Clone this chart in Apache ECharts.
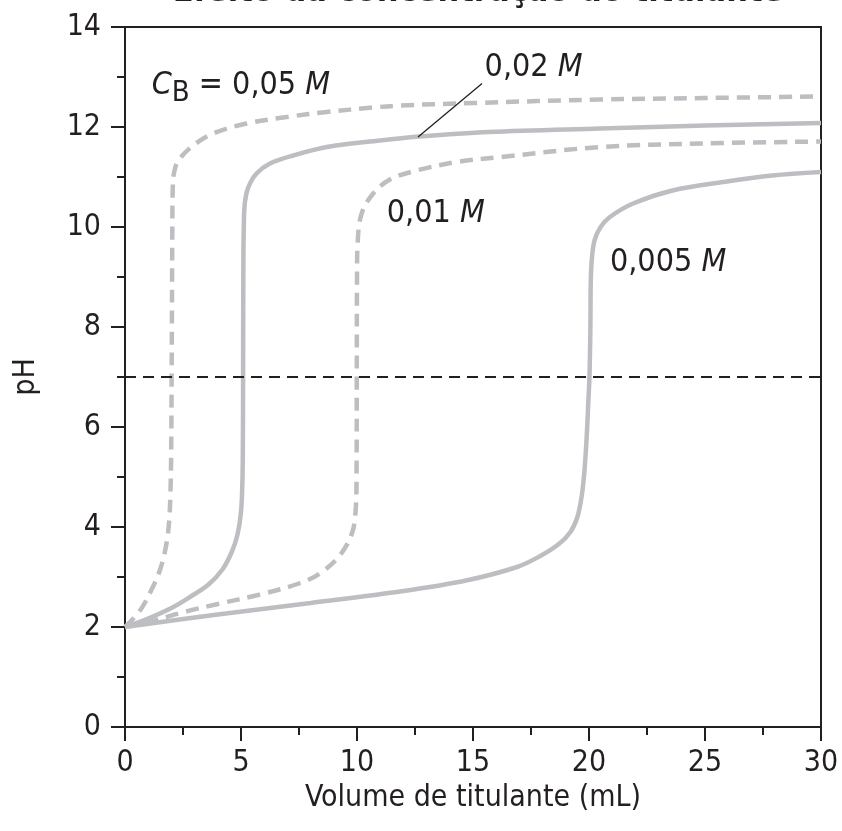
<!DOCTYPE html>
<html>
<head>
<meta charset="utf-8">
<script src="https://cdn.jsdelivr.net/npm/echarts@6/dist/echarts.min.js"></script>
<style>
  html, body { margin: 0; padding: 0; background: #fff; }
  #chart { width: 842px; height: 831px; }
</style>
</head>
<body>
<div id="chart"></div>
<script>
// curvas de titulação [volume (mL), pH]
var curva005 = [[0,2],[0.65,2.33],[1.2,2.8],[1.55,3.2],[1.78,3.65],[1.9,4.1],[1.96,4.7],[1.99,5.5],[2.01,7],
    [2.02,8],[2.03,9],[2.04,10],[2.06,10.8],[2.12,11.1],[2.3,11.33],[2.94,11.63],[3.8,11.87],[5.24,12.07],
    [6.97,12.2],[8.7,12.3],[10.7,12.39],[11.85,12.43],[15,12.48],[20.5,12.55],[25,12.58],[30,12.61]];
var curva002 = [[0,2],[1,2.17],[2,2.38],[2.8,2.6],[3.6,2.85],[4.2,3.15],[4.6,3.5],[4.85,3.85],[5.0,4.3],
    [5.06,4.9],[5.08,5.6],[5.09,7],[5.1,9],[5.12,10],[5.17,10.5],[5.32,10.8],[5.67,11.07],[6.25,11.27],
    [7.25,11.43],[8.7,11.6],[11,11.73],[12.7,11.81],[15.7,11.9],[20.5,11.97],[25,12.03],[30,12.08]];
var curva001 = [[0,2],[1,2.1],[2.55,2.3],[4,2.46],[5.82,2.65],[7.5,2.87],[8.4,3.07],[9.27,3.44],[9.8,3.9],
    [9.95,4.4],[9.98,5],[9.99,7],[10,9],[10.03,9.7],[10.2,10.27],[10.7,10.67],[11.42,10.95],[12.57,11.13],
    [14.3,11.3],[16.2,11.4],[20.5,11.6],[24.8,11.67],[30,11.71]];
var curva0005 = [[0,2],[4,2.25],[8,2.48],[12,2.72],[14.7,2.93],[16.9,3.2],[17.9,3.42],[18.7,3.66],[19.2,3.9],
    [19.5,4.2],[19.68,4.6],[19.8,5.1],[19.9,5.8],[19.97,6.5],[20.02,7],[20.06,8],[20.08,9.0],[20.14,9.45],
    [20.25,9.75],[20.5,10.0],[20.9,10.2],[21.9,10.47],[23.6,10.73],[25.8,10.9],[27.9,11.03],[30,11.1]];
var pontoEquivalencia = 7;
var linhaGuia = [[12.63,11.8],[15.39,12.87]];
// rótulos: [volume, pH, texto]
var rotulos = [
    [1.15, 12.83, '{i|C}{sub|B} = 0,05 {i|M}'],
    [15.5, 13.19, '0,02 {i|M}'],
    [11.28, 10.27, '0,01 {i|M}'],
    [20.9, 9.28, '0,005 {i|M}']
];
var xTicks = [0, 5, 10, 15, 20, 25, 30];

var fonte = '"DejaVu Sans Condensed", "Liberation Sans Narrow", sans-serif';
var cinza = '#bdbec1';
var preto = '#231f20';

var chart = echarts.init(document.getElementById('chart'));

function curva(dados, tracejada) {
    return {
        type: 'line',
        data: dados,
        showSymbol: false,
        smooth: 0.35,
        lineStyle: { color: cinza, width: 4.5, type: tracejada ? [13, 8] : 'solid', cap: 'butt' },
        silent: true,
        z: 2
    };
}

var option = {
    animation: false,
    title: {
        text: 'Efeito da concentração do titulante',
        left: 473,
        top: -30,
        textAlign: 'center',
        textStyle: { fontFamily: fonte, fontSize: 34, fontWeight: 'bold', color: preto }
    },
    grid: {
        left: 125, right: 21, top: 27, bottom: 104,
        show: true, borderColor: preto, borderWidth: 2
    },
    xAxis: {
        type: 'value', min: 0, max: 30, interval: 5,
        name: 'Volume de titulante (mL)',
        nameLocation: 'middle', nameGap: 54,
        nameTextStyle: { fontFamily: fonte, fontSize: 30, color: preto },
        axisLine: { show: true, lineStyle: { color: preto, width: 2 } },
        axisTick: { show: true, length: 14, lineStyle: { color: preto, width: 2 } },
        minorTick: { show: true, splitNumber: 2, length: 8, lineStyle: { color: preto, width: 2 } },
        axisLabel: { fontFamily: fonte, fontSize: 30, color: preto, margin: 21,
            formatter: function (v) { return xTicks.indexOf(v) >= 0 ? String(v) : ''; } },
        splitLine: { show: false }
    },
    yAxis: {
        type: 'value', min: 0, max: 14, interval: 2,
        name: 'pH',
        nameLocation: 'middle', nameGap: 84,
        nameTextStyle: { fontFamily: fonte, fontSize: 30, color: preto },
        axisLine: { show: true, lineStyle: { color: preto, width: 2 } },
        axisTick: { show: true, length: 14, lineStyle: { color: preto, width: 2 } },
        minorTick: { show: true, splitNumber: 2, length: 8, lineStyle: { color: preto, width: 2 } },
        axisLabel: { fontFamily: fonte, fontSize: 30, color: preto, margin: 24 },
        splitLine: { show: false }
    },
    series: [
        curva(curva005, true),
        curva(curva002, false),
        curva(curva001, true),
        curva(curva0005, false),
        {
            // linha do ponto de equivalência (pH 7)
            type: 'line', data: [], silent: true,
            markLine: {
                symbol: 'none', silent: true, animation: false,
                label: { show: false },
                lineStyle: { color: preto, width: 2, type: [11, 7] },
                data: [{ yAxis: pontoEquivalencia }]
            }
        },
        {
            type: 'line', data: linhaGuia, showSymbol: false, silent: true,
            lineStyle: { color: preto, width: 1.3 }, z: 3
        },
        {
            type: 'scatter', symbolSize: 0, silent: true,
            itemStyle: { opacity: 1 },
            data: rotulos.map(function (r) { return { value: [r[0], r[1]], texto: r[2] }; }),
            label: {
                show: true, position: 'right', distance: 0,
                fontFamily: fonte, fontSize: 32, color: preto, opacity: 1,
                formatter: function (p) { return p.data.texto; },
                rich: {
                    i: { fontFamily: fonte, fontSize: 32, fontStyle: 'italic', color: preto },
                    sub: { fontFamily: fonte, fontSize: 29, color: preto, padding: [15, 0, 0, 0] }
                }
            },
            z: 4
        }
    ]
};
chart.setOption(option);
</script>
</body>
</html>
